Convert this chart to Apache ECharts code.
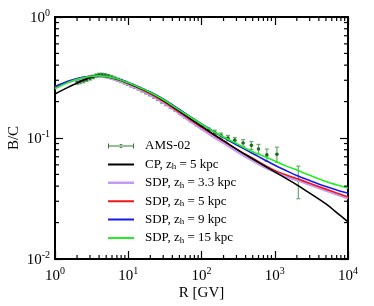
<!DOCTYPE html>
<html>
<head>
<meta charset="utf-8">
<script src="https://cdn.jsdelivr.net/npm/echarts@6/dist/echarts.min.js"></script>
<style>html,body{margin:0;padding:0;background:#fff}#c{width:374px;height:306px}</style>
</head>
<body>
<div id="c"></div>
<script>
// ---- data ----
const R = [1, 1.5, 2, 2.5, 3, 4, 5, 7, 10, 15, 20, 30, 50, 70, 100, 150, 200, 300, 500, 700, 1000, 1500, 2000, 3000, 5000, 7000, 10000];
const cp    = [0.231,0.262,0.284,0.303,0.315,0.324,0.322,0.307,0.284,0.256,0.236,0.205,0.167,0.145,0.125,0.106,0.095,0.081,0.067,0.0595,0.0525,0.0455,0.041,0.035,0.0285,0.0242,0.0203];
const sdp33 = [0.262,0.289,0.305,0.314,0.319,0.322,0.318,0.302,0.277,0.248,0.227,0.197,0.159,0.138,0.119,0.101,0.091,0.078,0.065,0.058,0.0525,0.0475,0.045,0.0412,0.0368,0.0342,0.0318];
const sdp5  = [0.262,0.291,0.307,0.317,0.322,0.325,0.321,0.306,0.282,0.253,0.232,0.201,0.163,0.142,0.123,0.105,0.094,0.081,0.068,0.0605,0.054,0.049,0.0462,0.0423,0.0378,0.0351,0.0325];
const sdp9  = [0.266,0.294,0.310,0.319,0.324,0.327,0.324,0.310,0.288,0.260,0.240,0.210,0.172,0.150,0.131,0.112,0.101,0.088,0.0745,0.0668,0.0595,0.053,0.049,0.0445,0.0397,0.0372,0.0350];
const sdp15 = [0.255,0.288,0.306,0.316,0.322,0.326,0.323,0.309,0.286,0.258,0.238,0.208,0.170,0.149,0.130,0.112,0.102,0.090,0.077,0.0708,0.0645,0.058,0.0543,0.0492,0.0437,0.041,0.0385];

const amsR   = [2.0,2.2,2.45,2.7,3.0,3.3,3.65,4.0,4.4,4.85,5.35,5.9,6.5,7.2,8.0,8.9,9.9,11,12.3,13.8,15.5,17.5,19.8,22.5,25.6,29,33,38,44,51,60,71,85,102,125,152,185,230,285,370,480,600,780,1070,2100];
const amsVal = [0.290,0.293,0.298,0.305,0.312,0.320,0.327,0.332,0.333,0.330,0.325,0.318,0.311,0.303,0.296,0.288,0.280,0.272,0.264,0.256,0.247,0.238,0.229,0.219,0.210,0.200,0.191,0.181,0.171,0.161,0.151,0.141,0.131,0.123,0.116,0.111,0.105,0.100,0.096,0.091,0.087,0.081,0.0725,0.0735,0.045];
const amsErr = [0.012,0.012,0.012,0.012,0.011,0.011,0.011,0.011,0.010,0.010,0.010,0.010,0.009,0.009,0.009,0.008,0.008,0.008,0.007,0.007,0.007,0.007,0.006,0.006,0.006,0.006,0.006,0.006,0.005,0.005,0.005,0.005,0.005,0.005,0.005,0.005,0.005,0.005,0.005,0.006,0.0065,0.0075,0.0085,0.0105,0.0135];

const xTickExp = ['0','1','2','3','4'];
const yTickExp = ['-2','-1','0'];
const mantissas = [2,3,4,5,6,7,8,9];
const xDecades = [1,10,100,1000];
const yDecades = [0.01,0.1];

const names = ['AMS-02','CP, z_h = 5 kpc','SDP, z_h = 3.3 kpc','SDP, z_h = 5 kpc','SDP, z_h = 9 kpc','SDP, z_h = 15 kpc'];

// ---- build ----
const zip = (ys) => R.map((r,i)=>[r, ys[i]]);
const amsData = amsR.map((r,i)=>[r, amsVal[i], amsVal[i]-amsErr[i], amsVal[i]+amsErr[i], r/1.045, r*1.045]);
const tickData = [];
xDecades.forEach(d=>mantissas.forEach(m=>tickData.push([d*m, 0.01, 0])));
yDecades.forEach(d=>mantissas.forEach(m=>tickData.push([1, +(d*m).toPrecision(3), 1])));

const FONT = '"Liberation Serif","Times New Roman",serif';
const lineSeries = (name, data, color, w, z) => ({
  name, type:'line', data: zip(data), symbol:'none', smooth:0.35,
  lineStyle:{color, width:w}, itemStyle:{color}, z, silent:true
});

const legendFmt = (n) => {
  const parts = n.split('z_h');
  if (parts.length === 1) return '{n|' + n + '}';
  return '{n|' + parts[0] + 'z}{s|h}{n|' + parts[1] + '}';
};
const BOX = 'M0,0h0.05v0.05h-0.05z M25.95,13.95h0.05v0.05h-0.05z ';
const lineIcon = (h) => 'path://' + BOX + 'M0,' + (7-h/2) + 'h26v' + h + 'h-26z';

const axisCommon = {
  type:'log', logBase:10,
  axisLine:{show:true, onZero:false, lineStyle:{color:'#000', width:2}},
  axisTick:{show:true, inside:true, length:8, lineStyle:{color:'#000', width:1.2}},
  splitLine:{show:false}, minorTick:{show:false}
};

const chart = echarts.init(document.getElementById('c'), null, {renderer:'canvas'});
chart.setOption({
  animation:false,
  backgroundColor:'#fff',
  grid:{left:55, right:26, top:17, bottom:47, containLabel:false, outerBoundsMode:'none'},
  xAxis:[
    Object.assign({}, axisCommon, {
      min:1, max:10000, interval:1, position:'bottom',
      name:'R [GV]', nameLocation:'middle', nameGap:27, nameMoveOverlap:false,
      nameTextStyle:{fontFamily:FONT, fontSize:15, color:'#000'},
      axisLabel:{margin:7, color:'#000', fontFamily:FONT,
        formatter:(v)=>'{b|10}{s|' + xTickExp[Math.round(Math.log10(v))] + '}',
        rich:{b:{fontFamily:FONT,fontSize:15,color:'#000',lineHeight:18,verticalAlign:'bottom'},
              s:{fontFamily:FONT,fontSize:10,color:'#000',lineHeight:18,verticalAlign:'top'}}}
    }),
    Object.assign({}, axisCommon, {min:1, max:10000, interval:1, position:'top', axisLabel:{show:false}})
  ],
  yAxis:[
    Object.assign({}, axisCommon, {
      min:0.01, max:1, interval:1, position:'left',
      name:'B/C', nameLocation:'middle', nameGap:33, nameRotate:90, nameMoveOverlap:false,
      nameTextStyle:{fontFamily:FONT, fontSize:15, color:'#000'},
      axisLabel:{margin:5, color:'#000', fontFamily:FONT,
        formatter:(v)=>'{b|10}{s|' + yTickExp[Math.round(Math.log10(v))+2] + '}',
        rich:{b:{fontFamily:FONT,fontSize:15,color:'#000',lineHeight:18,verticalAlign:'bottom'},
              s:{fontFamily:FONT,fontSize:10,color:'#000',lineHeight:18,verticalAlign:'top'}}}
    }),
    Object.assign({}, axisCommon, {min:0.01, max:1, interval:1, position:'right', axisLabel:{show:false}})
  ],
  legend:{
    orient:'vertical', left:103, top:134, itemWidth:26, itemHeight:14, itemGap:3.4,
    data:[
      {name:names[0], icon:'path://' + BOX + 'M0,6.4h26v1.2h-26z M0,4.5h1v5h-1z M25,4.5h1v5h-1z M13,5a2,2 0 1,0 0.001,0z'},
      {name:names[1], icon:lineIcon(2)},
      {name:names[2], icon:lineIcon(2.6)},
      {name:names[3], icon:lineIcon(2)},
      {name:names[4], icon:lineIcon(2)},
      {name:names[5], icon:lineIcon(2)}
    ],
    formatter: legendFmt,
    selectedMode:false,
    textStyle:{fontFamily:FONT, fontSize:13, color:'#000', padding:[0,0,0,6],
      rich:{n:{fontFamily:FONT,fontSize:13,color:'#000',lineHeight:14},
            s:{fontFamily:FONT,fontSize:9,color:'#000',lineHeight:14,verticalAlign:'bottom',padding:[6,0,0,0]}}}
  },
  series:[
    {
      name:'ticks', type:'custom', data:tickData, silent:true, z:20, clip:false,
      renderItem:(params, api)=>{
        const v = api.value(0), w = api.value(1), k = api.value(2);
        const st = {stroke:'#000', lineWidth:1.2};
        if (k === 0) {
          const b = api.coord([v, 0.01]), t = api.coord([v, 1]);
          return {type:'group', children:[
            {type:'line', shape:{x1:b[0],y1:b[1],x2:b[0],y2:b[1]-4}, style:st},
            {type:'line', shape:{x1:t[0],y1:t[1],x2:t[0],y2:t[1]+4}, style:st}
          ]};
        } else {
          const l = api.coord([1, w]), r = api.coord([10000, w]);
          return {type:'group', children:[
            {type:'line', shape:{x1:l[0],y1:l[1],x2:l[0]+4,y2:l[1]}, style:st},
            {type:'line', shape:{x1:r[0],y1:r[1],x2:r[0]-4,y2:r[1]}, style:st}
          ]};
        }
      }
    },
    {
      name:names[0], type:'custom', data:amsData, z:3, silent:true,
      itemStyle:{color:'#2f7f2f'},
      renderItem:(params, api)=>{
        const c = api.coord([api.value(0), api.value(1)]);
        const lo = api.coord([api.value(0), api.value(2)]);
        const hi = api.coord([api.value(0), api.value(3)]);
        const xl = api.coord([api.value(4), api.value(1)]);
        const xh = api.coord([api.value(5), api.value(1)]);
        const eb = {stroke:'#6fa86f', lineWidth:1.2};
        return {type:'group', children:[
          {type:'line', shape:{x1:c[0],y1:lo[1],x2:c[0],y2:hi[1]}, style:eb},
          {type:'line', shape:{x1:c[0]-2,y1:lo[1],x2:c[0]+2,y2:lo[1]}, style:eb},
          {type:'line', shape:{x1:c[0]-2,y1:hi[1],x2:c[0]+2,y2:hi[1]}, style:eb},
          {type:'line', shape:{x1:xl[0],y1:c[1],x2:xh[0],y2:c[1]}, style:eb},
          {type:'circle', shape:{cx:c[0],cy:c[1],r:1.8}, style:{fill:'#1d6b1d'}}
        ]};
      }
    },
    lineSeries(names[2], sdp33, '#c39bf5', 2.6, 4),
    lineSeries(names[3], sdp5, '#f01818', 1.6, 5),
    lineSeries(names[1], cp, '#000000', 1.6, 6),
    lineSeries(names[4], sdp9, '#1a1aee', 1.6, 7),
    lineSeries(names[5], sdp15, '#22ee22', 1.6, 8)
  ]
});
</script>
</body>
</html>
